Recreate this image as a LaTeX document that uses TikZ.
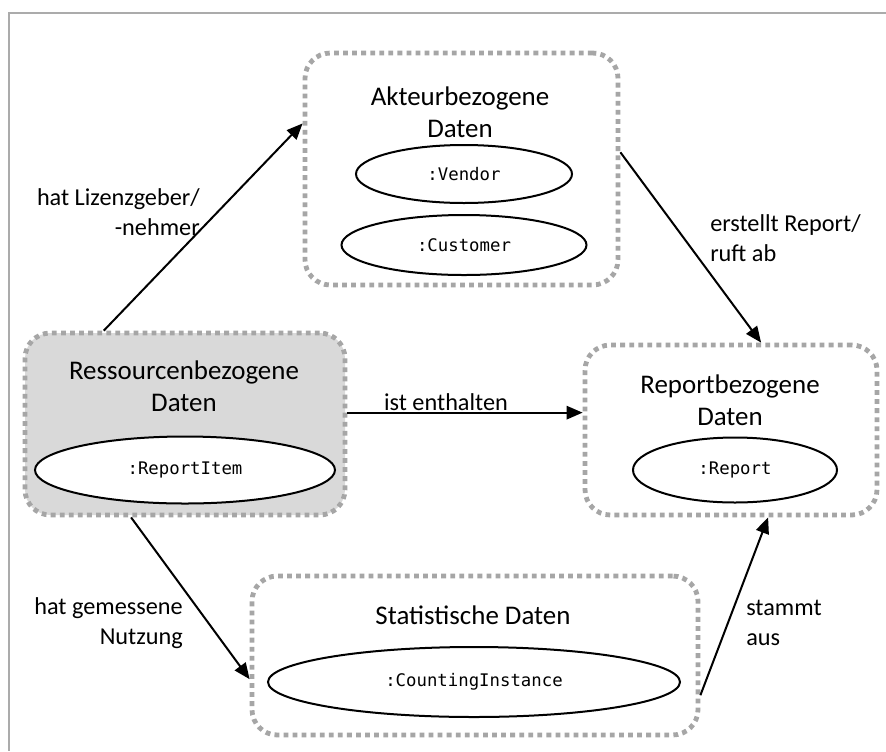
\documentclass[tikz,border=0pt]{standalone}
\usepackage{fontspec}
\setmainfont{Carlito}
\setmonofont{DejaVu Sans Mono}
\usetikzlibrary{shapes.geometric,arrows.meta,calc}

\definecolor{dotgray}{HTML}{A6A6A6}
\definecolor{boxfill}{HTML}{D9D9D9}
\definecolor{framegray}{HTML}{ABABAB}

\tikzset{
  group/.style={draw=dotgray, line width=3.6pt, dash pattern=on 3.6pt off 3.2pt,
    rounded corners=19pt, inner sep=0pt},
  grouptitle/.style={font=\fontsize{20.2}{24}\selectfont, align=center, inner sep=0pt},
  obj/.style={ellipse, draw=black, line width=1.5pt, fill=white, inner sep=0pt,
    font=\ttfamily\fontsize{13}{15}\selectfont},
  rel/.style={draw=black, line width=1.5pt, -{Triangle[length=12pt,width=10pt]}},
  rellabel/.style={font=\fontsize{18.2}{22.5}\selectfont, inner sep=0pt}
}

\begin{document}
\begin{tikzpicture}[x=0.75pt,y=-0.75pt]
\useasboundingbox (0,0) rectangle (886,751);
\fill[white] (0,0) rectangle (886,751);

% page frame (top and left edges)
\draw[framegray, line width=2pt] (886,13) -- (9,13) -- (9,751);

% groups
\node[group, minimum width=234.75pt, minimum height=174pt] (akt) at (461.5,169) {};
\node[group, fill=boxfill, minimum width=240pt, minimum height=136.5pt] (res) at (185,424) {};
\node[group, minimum width=219pt, minimum height=127.5pt] (rep) at (731,430) {};
\node[group, minimum width=334.5pt, minimum height=119.25pt] (sta) at (475,655.5) {};

% group titles
\node[grouptitle] (aktT) at (460,112) {Akteurbezogene\\Daten};
\node[grouptitle] (resT) at (184,386) {Ressourcenbezogene\\Daten};
\node[grouptitle] (repT) at (730,400) {Reportbezogene\\Daten};
\node[grouptitle] (staT) at (473,615) {Statistische Daten};

% objects
\node[obj, minimum width=162pt, minimum height=43.5pt] (vendor) at (464,174) {:Vendor};
\node[obj, minimum width=183.75pt, minimum height=45pt] (customer) at (464,245) {:Customer};
\node[obj, minimum width=225pt, minimum height=50.25pt] (item) at (185,470) {:ReportItem};
\node[obj, minimum width=153pt, minimum height=48.75pt] (report) at (735,470) {:Report};
\node[obj, minimum width=309pt, minimum height=52.5pt] (counting) at (474,682) {:CountingInstance};

% relations
\draw[rel] (res.131) -- (akt.164);
\draw[rel] (akt.6) -- (rep.71);
\draw[rel] (res.4) -- (res.4 -| rep.west);
\draw[rel] (res.240) -- (sta.186);
\draw[rel] (sta.350.5) -- (rep.293.5);

% relation labels
\node[rellabel, align=right, anchor=east] (l1) at (200,212) {hat Lizenzgeber/\\-nehmer};
\node[rellabel, align=left, anchor=west] (l2) at (710,238) {erstellt Report/\\ruft ab};
\node[rellabel] (l3) at (446,402) {ist enthalten};
\node[rellabel, align=right, anchor=east] (l4) at (183,623.5) {hat gemessene\\Nutzung};
\node[rellabel, align=left, anchor=west] (l5) at (746,622.5) {stammt\\aus};
\end{tikzpicture}
\end{document}
